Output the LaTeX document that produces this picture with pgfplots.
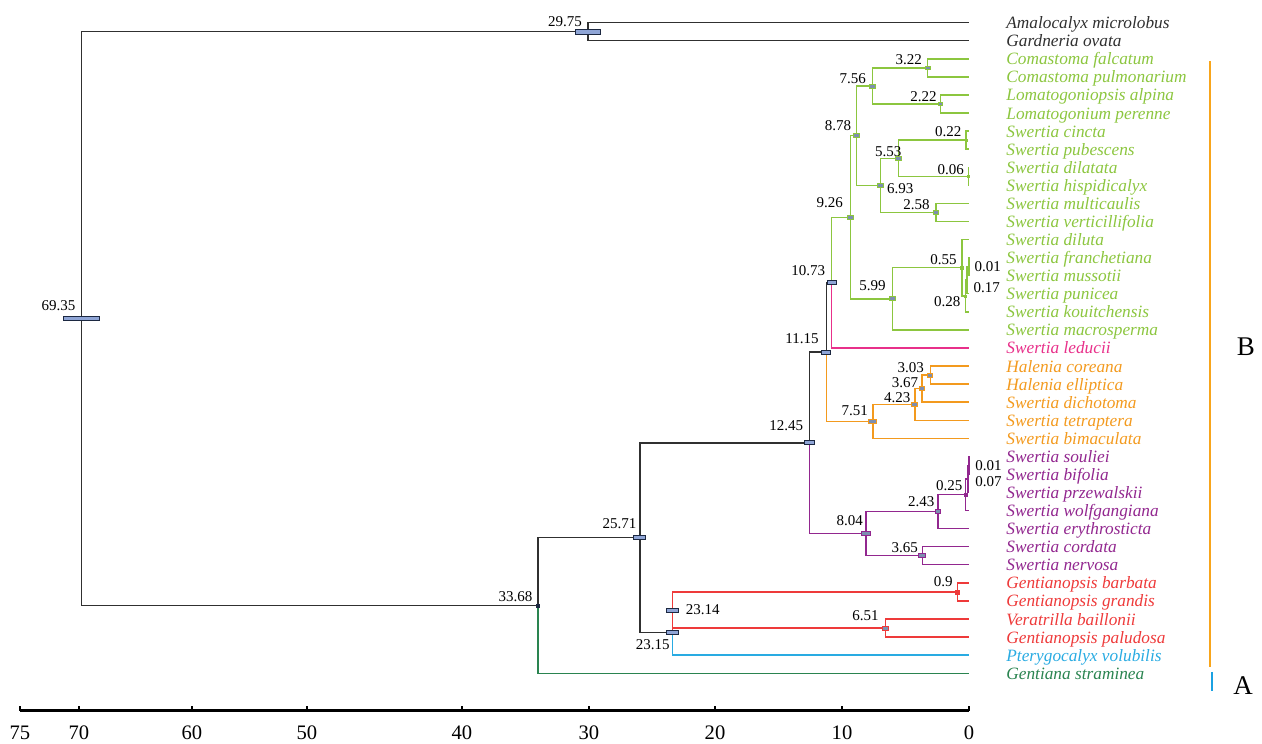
\documentclass[border=0pt]{standalone}
\usepackage{fontspec}
\setmainfont{Liberation Serif}
\usepackage{pgfplots}
\pgfplotsset{compat=1.18}
\definecolor{dk}{HTML}{303030}
\definecolor{gr}{HTML}{8CC63F}
\definecolor{pk}{HTML}{E8308A}
\definecolor{orr}{HTML}{F39A1E}
\definecolor{pu}{HTML}{92278F}
\definecolor{rd}{HTML}{EE3A3A}
\definecolor{bl}{HTML}{29ABE2}
\definecolor{dkg}{HTML}{2A8450}
\definecolor{nv}{HTML}{1C2841}
\definecolor{lb}{HTML}{8FA5D6}
\definecolor{sb}{HTML}{7D8FB0}
\definecolor{barB}{HTML}{F8A51B}
\definecolor{barA}{HTML}{1BA1E2}
\newcommand{\hpd}[6]{\addplot[only marks, mark=square*, mark size=1pt, mark options={xscale=#3,yscale=#4,draw=#5,fill=#6,line width=0.4pt}] coordinates {(#1,#2)};}
\newcommand{\nlab}[6]{\node[nlabst, anchor=#4, xshift=#5, yshift=#6] at (axis cs:#1,#2) {#3};}
\newcommand{\lf}[3]{\node[splab, text=#3] at (axis cs:-2.89,#1) {#2};}
\newcommand{\tlab}[2]{\node[tklab] at (axis cs:#1,40.31) {#2};}
\tikzset{nlabst/.style={inner sep=0pt, font=\fontsize{7.5}{8}\selectfont, text=black},
 splab/.style={inner sep=0pt, anchor=base west, yshift=-3pt, font=\fontsize{8.65}{10}\selectfont\itshape},
 tklab/.style={inner sep=0pt, anchor=center, font=\fontsize{10.3}{12}\selectfont, text=black}}
\begin{document}
\begin{tikzpicture}
\begin{axis}[width=631pt,height=372pt,scale only axis,
 x dir=reverse,y dir=reverse,
 xmin=-22.89,xmax=75.70,ymin=-0.256,ymax=40.917,
 hide axis,clip=false,
 every axis plot/.append style={line width=0.7pt, mark=none}]
\path (rel axis cs:0,0) rectangle (rel axis cs:1,1);
% outgroup and backbone
\addplot[dk] coordinates {(29.75,1.5) (69.35,1.5) (69.35,33.25) (33.68,33.25)};
\addplot[dk] coordinates {(0,1) (29.75,1) (29.75,2) (0,2)};
\addplot[dk] coordinates {(25.71,29.501) (33.68,29.501) (33.68,33.25)};
\addplot[dkg] coordinates {(33.68,33.25) (33.68,37) (0,37)};
\addplot[dk] coordinates {(12.45,24.252) (25.71,24.252) (25.71,34.75) (23.15,34.75)};
\addplot[rd] coordinates {(23.15,34.75) (23.15,33.5) (23.14,33.5)};
\addplot[bl] coordinates {(23.15,34.75) (23.15,36) (0,36)};
\addplot[rd] coordinates {(0.9,32.5) (23.14,32.5) (23.14,34.5) (6.51,34.5)};
\addplot[rd] coordinates {(0,32) (0.9,32) (0.9,33) (0,33)};
\addplot[rd] coordinates {(0,34) (6.51,34) (6.51,35) (0,35)};
\addplot[dk] coordinates {(11.15,19.2227) (12.45,19.2227) (12.45,24.252)};
% purple
\addplot[pu] coordinates {(12.45,24.252) (12.45,29.28125) (8.04,29.28125)};
\addplot[pu] coordinates {(2.43,28.0625) (8.04,28.0625) (8.04,30.5) (3.65,30.5)};
\addplot[pu] coordinates {(0,30) (3.65,30) (3.65,31) (0,31)};
\addplot[pu] coordinates {(0.25,27.125) (2.43,27.125) (2.43,29) (0,29)};
\addplot[pu] coordinates {(0.07,26.25) (0.25,26.25) (0.25,28) (0,28)};
\addplot[pu] coordinates {(0.01,25.5) (0.07,25.5) (0.07,27) (0,27)};
\addplot[pu] coordinates {(0,25) (0.01,25) (0.01,26) (0,26)};
% orange
\addplot[dk] coordinates {(10.73,15.3828) (11.15,15.3828) (11.15,19.2227)};
\addplot[orr] coordinates {(11.15,19.2227) (11.15,23.0625) (7.51,23.0625)};
\addplot[orr] coordinates {(4.23,22.125) (7.51,22.125) (7.51,24) (0,24)};
\addplot[orr] coordinates {(3.67,21.25) (4.23,21.25) (4.23,23) (0,23)};
\addplot[orr] coordinates {(3.03,20.5) (3.67,20.5) (3.67,22) (0,22)};
\addplot[orr] coordinates {(0,20) (3.03,20) (3.03,21) (0,21)};
% pink
\addplot[pk] coordinates {(10.73,15.3828) (10.73,19) (0,19)};
% green
\addplot[gr] coordinates {(10.73,15.3828) (10.73,11.765625) (9.26,11.765625)};
\addplot[gr] coordinates {(8.78,7.25) (9.26,7.25) (9.26,16.28125) (5.99,16.28125)};
\addplot[gr] coordinates {(7.56,4.5) (8.78,4.5) (8.78,10) (6.93,10)};
\addplot[gr] coordinates {(3.22,3.5) (7.56,3.5) (7.56,5.5) (2.22,5.5)};
\addplot[gr] coordinates {(0,3) (3.22,3) (3.22,4) (0,4)};
\addplot[gr] coordinates {(0,5) (2.22,5) (2.22,6) (0,6)};
\addplot[gr] coordinates {(5.53,8.5) (6.93,8.5) (6.93,11.5) (2.58,11.5)};
\addplot[gr] coordinates {(0.22,7.5) (5.53,7.5) (5.53,9.5) (0.06,9.5)};
\addplot[gr] coordinates {(0,7) (0.22,7) (0.22,8) (0,8)};
\addplot[gr] coordinates {(0,9) (0.06,9) (0.06,10) (0,10)};
\addplot[gr] coordinates {(0,11) (2.58,11) (2.58,12) (0,12)};
\addplot[gr] coordinates {(0.55,14.5625) (5.99,14.5625) (5.99,18) (0,18)};
\addplot[gr] coordinates {(0,13) (0.55,13) (0.55,16.125) (0.28,16.125)};
\addplot[gr] coordinates {(0.17,15.25) (0.28,15.25) (0.28,17) (0,17)};
\addplot[gr] coordinates {(0.01,14.5) (0.17,14.5) (0.17,16) (0,16)};
\addplot[gr] coordinates {(0,14) (0.01,14) (0.01,15) (0,15)};
% HPD bars
\hpd{69.35}{17.375}{9.15}{1.1}{nv}{lb}
\hpd{29.75}{1.5}{6.2}{1.1}{nv}{lb}
\hpd{33.68}{33.25}{0.75}{0.75}{nv}{nv}
\hpd{25.71}{29.501}{3}{1}{nv}{lb}
\hpd{23.14}{33.5}{3}{1}{nv}{lb}
\hpd{23.15}{34.75}{3}{1}{nv}{lb}
\hpd{12.45}{24.252}{2.5}{1}{nv}{lb}
\hpd{11.15}{19.2227}{2.2}{1}{nv}{lb}
\hpd{10.73}{15.3828}{2.3}{1}{nv}{lb}
\hpd{9.26}{11.765625}{1.6}{1}{gr}{sb}
\hpd{8.78}{7.25}{1.6}{1}{gr}{sb}
\hpd{7.56}{4.5}{1.5}{1}{gr}{sb}
\hpd{3.22}{3.5}{1.3}{0.9}{gr}{sb}
\hpd{2.22}{5.5}{1.1}{0.9}{gr}{sb}
\hpd{6.93}{10}{1.5}{1}{gr}{sb}
\hpd{5.53}{8.5}{1.4}{1}{gr}{sb}
\hpd{2.58}{11.5}{1.3}{0.9}{gr}{sb}
\hpd{5.99}{16.28125}{1.5}{1}{gr}{sb}
\hpd{0.55}{14.5625}{0.6}{0.6}{gr}{gr}
\hpd{0.22}{7.5}{0.45}{0.5}{gr}{gr}
\hpd{0.06}{9.5}{0.4}{0.5}{gr}{gr}
\hpd{0.28}{16.125}{0.45}{0.5}{gr}{gr}
\hpd{7.51}{23.0625}{2}{1}{orr}{sb}
\hpd{4.23}{22.125}{1.5}{1}{orr}{sb}
\hpd{3.67}{21.25}{1.4}{1}{orr}{sb}
\hpd{3.03}{20.5}{1.3}{1}{orr}{sb}
\hpd{8.04}{29.28125}{2.4}{1}{pu}{sb}
\hpd{2.43}{28.0625}{1.4}{1}{pu}{sb}
\hpd{3.65}{30.5}{1.7}{1}{pu}{sb}
\hpd{0.25}{27.125}{0.6}{0.6}{pu}{pu}
\hpd{6.51}{34.5}{1.6}{1}{rd}{sb}
\hpd{0.9}{32.5}{1}{1}{rd}{rd}
% node labels
\nlab{69.35}{17.375}{69.35}{south east}{-2.8pt}{3.5pt}
\nlab{29.75}{1.5}{29.75}{south east}{-3pt}{2.5pt}
\nlab{7.56}{4.5}{7.56}{south east}{-3pt}{1pt}
\nlab{8.78}{7.25}{8.78}{south east}{-2.5pt}{2.5pt}
\nlab{3.22}{3.5}{3.22}{south east}{-2.7pt}{1.2pt}
\nlab{2.22}{5.5}{2.22}{south east}{-1.8pt}{0.7pt}
\nlab{0.22}{7.5}{0.22}{south east}{-2.2pt}{1.5pt}
\nlab{5.53}{8.5}{5.53}{south east}{1.8pt}{0.7pt}
\nlab{0.06}{9.5}{0.06}{south east}{-2pt}{0.8pt}
\nlab{6.93}{10}{6.93}{west}{3.2pt}{-1.5pt}
\nlab{9.26}{11.765625}{9.26}{south east}{-3.6pt}{4.7pt}
\nlab{2.58}{11.5}{2.58}{south east}{-3pt}{1.3pt}
\nlab{10.73}{15.3828}{10.73}{south east}{-3pt}{3.2pt}
\nlab{5.99}{16.28125}{5.99}{south east}{-3.2pt}{3.7pt}
\nlab{0.55}{14.5625}{0.55}{south east}{-2.5pt}{1.5pt}
\nlab{0.01}{14.5}{0.01}{west}{2.7pt}{0pt}
\nlab{0.17}{15.25}{0.17}{west}{3.2pt}{-3.5pt}
\nlab{0.28}{16.125}{0.28}{east}{-2.3pt}{-2.8pt}
\nlab{3.03}{20.5}{3.03}{south east}{-3pt}{1.2pt}
\nlab{3.67}{21.25}{3.67}{south east}{-1.8pt}{0.5pt}
\nlab{4.23}{22.125}{4.23}{south east}{-2pt}{0.6pt}
\nlab{7.51}{23.0625}{7.51}{south east}{-2.3pt}{2.5pt}
\nlab{11.15}{19.2227}{11.15}{south east}{-3.6pt}{3.8pt}
\nlab{12.45}{24.252}{12.45}{south east}{-3.1pt}{6.1pt}
\nlab{8.04}{29.28125}{8.04}{south east}{-1.4pt}{4pt}
\nlab{2.43}{28.0625}{2.43}{south east}{-1.5pt}{2.5pt}
\nlab{3.65}{30.5}{3.65}{south east}{-2pt}{1.3pt}
\nlab{0.25}{27.125}{0.25}{south east}{-1.5pt}{1.7pt}
\nlab{0.01}{25.5}{0.01}{west}{3pt}{0pt}
\nlab{0.07}{26.25}{0.07}{west}{3.4pt}{-1.5pt}
\nlab{0.9}{32.5}{0.9}{south east}{-2.2pt}{2.6pt}
\nlab{6.51}{34.5}{6.51}{south east}{-3.3pt}{3.6pt}
\nlab{23.14}{33.5}{23.14}{west}{6.4pt}{0pt}
\nlab{23.15}{34.75}{23.15}{north east}{-1.3pt}{-3.3pt}
\nlab{25.71}{29.501}{25.71}{south east}{-1.6pt}{4.3pt}
\nlab{33.68}{33.25}{33.68}{south east}{-2.5pt}{1.8pt}
% species
\lf{1}{Amalocalyx microlobus}{dk}
\lf{2}{Gardneria ovata}{dk}
\lf{3}{Comastoma falcatum}{gr}
\lf{4}{Comastoma pulmonarium}{gr}
\lf{5}{Lomatogoniopsis alpina}{gr}
\lf{6}{Lomatogonium perenne}{gr}
\lf{7}{Swertia cincta}{gr}
\lf{8}{Swertia pubescens}{gr}
\lf{9}{Swertia dilatata}{gr}
\lf{10}{Swertia hispidicalyx}{gr}
\lf{11}{Swertia multicaulis}{gr}
\lf{12}{Swertia verticillifolia}{gr}
\lf{13}{Swertia diluta}{gr}
\lf{14}{Swertia franchetiana}{gr}
\lf{15}{Swertia mussotii}{gr}
\lf{16}{Swertia punicea}{gr}
\lf{17}{Swertia kouitchensis}{gr}
\lf{18}{Swertia macrosperma}{gr}
\lf{19}{Swertia leducii}{pk}
\lf{20}{Halenia coreana}{orr}
\lf{21}{Halenia elliptica}{orr}
\lf{22}{Swertia dichotoma}{orr}
\lf{23}{Swertia tetraptera}{orr}
\lf{24}{Swertia bimaculata}{orr}
\lf{25}{Swertia souliei}{pu}
\lf{26}{Swertia bifolia}{pu}
\lf{27}{Swertia przewalskii}{pu}
\lf{28}{Swertia wolfgangiana}{pu}
\lf{29}{Swertia erythrosticta}{pu}
\lf{30}{Swertia cordata}{pu}
\lf{31}{Swertia nervosa}{pu}
\lf{32}{Gentianopsis barbata}{rd}
\lf{33}{Gentianopsis grandis}{rd}
\lf{34}{Veratrilla baillonii}{rd}
\lf{35}{Gentianopsis paludosa}{rd}
\lf{36}{Pterygocalyx volubilis}{bl}
\lf{37}{Gentiana straminea}{dkg}
% clade bars
\addplot[barB, line width=1.1pt] coordinates {(-18.83,3.12) (-18.83,36.66)};
\addplot[barA, line width=1.1pt] coordinates {(-19.0,36.93) (-19.0,37.98)};
\node[inner sep=0pt, font=\fontsize{13.5}{15}\selectfont] at (axis cs:-21.64,18.95) {B};
\node[inner sep=0pt, font=\fontsize{13.5}{15}\selectfont] at (axis cs:-21.41,37.71) {A};
% scale bar
\addplot[black, line width=1.5pt] coordinates {(74.14,39.09) (0,39.09)};
\pgfplotsinvokeforeach{74.14,69.53,60.70,51.72,39.61,29.69,19.84,9.92,0}{
 \addplot[black, line width=0.8pt] coordinates {(#1,39.09) (#1,38.80)};
}
\tlab{74.14}{75}
\tlab{69.53}{70}
\tlab{60.70}{60}
\tlab{51.72}{50}
\tlab{39.61}{40}
\tlab{29.69}{30}
\tlab{19.84}{20}
\tlab{9.92}{10}
\tlab{0}{0}
\end{axis}
\end{tikzpicture}
\end{document}
